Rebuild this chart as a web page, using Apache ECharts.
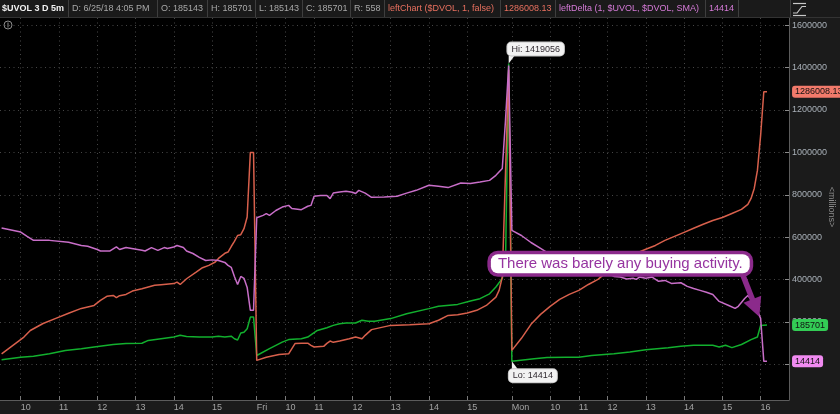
<!DOCTYPE html>
<html><head><meta charset="utf-8">
<script src="https://cdn.jsdelivr.net/npm/echarts@6/dist/echarts.min.js"></script>
<style>html,body{margin:0;padding:0;background:#1b1b1b;}#c{width:840px;height:414px;}</style>
</head><body><div id="c"></div>
<script>
// ---- data (x = 5-minute bar index across the 3 sessions) ----
const tickIdx = [6,18,30,42,54,66,80,89,98,110,122,134,146,160,172,181,190,202,214,226,238];
const tickLabels = ['10','11','12','13','14','15','Fri','10','11','12','13','14','15','Mon','10','11','12','13','14','15','16'];
const yTicks = [0,200000,400000,600000,800000,1000000,1200000,1400000,1600000];

// $UVOL (green)
const uvolPts = [[0,22000],[6,34000],[10,38000],[15,50000],[20,66000],[25,74000],[29,82000],[35,94000],[39,98000],[44,100000],[46,113000],[50,121000],[54,129000],[56,137000],[58,132000],[62,129000],[66,129000],[68,133000],[70,129000],[72,133000],[73,121000],[74,115000],[75,148000],[76,152000],[77,168000],[78,223000],[79,223000],
 [80,42000],[84,74000],[88,105000],[90,117000],[94,121000],[96,129000],[99,160000],[102,173000],[104,184000],[106,192000],[108,195000],[111,195000],[113,208000],[115,203000],[117,204000],[122,216000],[127,239000],[134,263000],[137,274000],[143,283000],[147,299000],[150,310000],[153,333000],[155,365000],[157,406000],[158,470000],[159,1419056],
 [160,14414],[167,27000],[171,32000],[177,34000],[181,34000],[185,42000],[192,50000],[197,58000],[202,69000],[209,79000],[213,85000],[217,90000],[223,90000],[225,82000],[227,90000],[229,79000],[232,94000],[235,117000],[237,129000],[238,184000],[240,185701]];

// leftChart ($DVOL) (orange)
const dvolPts = [[0,50000],[7,129000],[9,160000],[13,193000],[17,217000],[21,241000],[25,264000],[29,278000],[31,302000],[33,321000],[35,325000],[36,315000],[37,324000],[39,330000],[41,346000],[44,357000],[48,373000],[50,376000],[54,381000],[55,388000],[56,377000],[58,404000],[61,435000],[63,456000],[65,467000],[67,483000],[68,500000],[70,524000],[71,530000],[72,556000],[73,580000],[74,608000],[75,612000],[76,640000],[77,695000],[78,1000000],[79,1000000],
 [80,19000],[83,34000],[87,47000],[90,50000],[92,98000],[94,100000],[96,100000],[97,90000],[98,82000],[101,85000],[102,99000],[103,110000],[104,104000],[106,110000],[109,121000],[111,129000],[113,121000],[114,137000],[116,164000],[122,184000],[128,187000],[134,192000],[137,208000],[140,231000],[143,234000],[146,242000],[149,255000],[152,278000],[155,317000],[156,349000],[157,412000],[158,900000],[159,1390000],
 [160,66000],[163,123000],[166,189000],[169,236000],[172,274000],[175,307000],[178,330000],[181,349000],[184,377000],[187,401000],[190,439000],[193,472000],[196,500000],[199,524000],[202,543000],[205,561000],[208,585000],[211,604000],[214,623000],[217,642000],[220,661000],[223,679000],[226,693000],[229,712000],[232,731000],[234,755000],[235,783000],[236,830000],[237,915000],[238,1080000],[239,1286008.13],[240,1286008.13]];

// leftDelta (pink)
const deltaPts = [[0,643000],[6,624000],[8,604000],[10,585000],[15,585000],[21,576000],[25,561000],[27,557000],[30,542000],[31,535000],[34,535000],[36,554000],[37,542000],[39,551000],[44,538000],[45,535000],[47,551000],[49,538000],[51,551000],[52,547000],[54,554000],[55,561000],[57,551000],[58,535000],[60,523000],[62,505000],[64,490000],[66,493000],[68,490000],[70,481000],[71,467000],[72,458000],[73,415000],[74,377000],[75,415000],[76,406000],[77,363000],[78,255000],[79,255000],
 [80,692000],[82,703000],[83,711000],[84,703000],[86,726000],[88,742000],[90,750000],[91,735000],[94,730000],[96,746000],[97,750000],[98,793000],[100,797000],[102,797000],[103,782000],[104,808000],[106,813000],[108,817000],[110,812000],[111,806000],[112,821000],[114,808000],[116,788000],[120,790000],[124,793000],[127,808000],[130,821000],[134,845000],[137,840000],[140,834000],[144,856000],[147,853000],[150,860000],[153,868000],[155,892000],[157,924000],[158,1150000],[159,1410000],
 [160,632000],[163,608000],[166,575000],[169,547000],[172,519000],[176,495000],[180,472000],[185,448000],[190,429000],[192,415000],[194,412000],[196,403000],[198,406000],[199,401000],[200,412000],[202,406000],[204,412000],[206,392000],[208,396000],[210,382000],[213,385000],[215,368000],[217,358000],[219,349000],[221,340000],[223,330000],[225,297000],[228,278000],[230,264000],[231,274000],[233,311000],[234,325000],[236,288000],[238,217000],[239,14414],[240,14414]];

const hiPoint = [159,1419056];
const loPoint = [160,14414];
const noteText = 'There was barely any buying activity.';
const notePoint = [194,474500];
const arrowFrom = [232.2,430000];
const arrowTo = [236.5,266000];

const headerTexts = ['$UVOL 3 D 5m','D: 6/25/18 4:05 PM','O: 185143','H: 185701','L: 185143','C: 185701','R: 558','leftChart ($DVOL, 1, false)','1286008.13','leftDelta (1, $UVOL, $DVOL, SMA)','14414'];
const unitText = '<millions>';

// ---- layout / style ----
const FONT = '"Liberation Sans", Arial, sans-serif';
const X_MIN = -0.5, X_MAX = 246.9;
const C_GREEN = '#12b02e', C_ORANGE = '#d8604c', C_PINK = '#c86ec8';
const cellStarts = [0,68,157,207,255,302,350,384,500,555,705];
const seps = [68,157,207,255,302,350,384,500,555,705,738,790];
const headerColors = ['#f2f2f2','#a8a8a8','#a8a8a8','#a8a8a8','#a8a8a8','#a8a8a8','#a8a8a8','#e8705f','#e8705f','#d57ad7','#d57ad7'];

const graphics = [{type:'rect', shape:{x:0,y:0,width:840,height:17}, style:{fill:'#1a1a1a'}, silent:true, z:100}];
seps.forEach(s => graphics.push({type:'line', shape:{x1:s+0.5,y1:0,x2:s+0.5,y2:17}, style:{stroke:'#3e3e3e',lineWidth:1}, silent:true, z:101}));
graphics.push({type:'line', shape:{x1:0,y1:17.5,x2:840,y2:17.5}, style:{stroke:'#333',lineWidth:1}, silent:true, z:101});
headerTexts.forEach((t,i) => graphics.push({type:'text', x:cellStarts[i]+(i===0?2:4), y:9, z:102, silent:true,
  style:{text:t, fill:headerColors[i], fontSize:9, fontFamily:FONT, fontWeight:i===0?'bold':'normal', verticalAlign:'middle'}}));
// chart-type icon in the header
graphics.push({type:'polyline', shape:{points:[[793,3.5],[806,3.5]]}, style:{stroke:'#c8c8c8',lineWidth:1.2}, z:102, silent:true});
graphics.push({type:'polyline', shape:{points:[[793,13],[797,13],[802,6.5],[806,6.5]]}, style:{stroke:'#c8c8c8',lineWidth:1.2,fill:null}, z:102, silent:true});
graphics.push({type:'polyline', shape:{points:[[793,15.5],[806,15.5]]}, style:{stroke:'#c8c8c8',lineWidth:1.2}, z:102, silent:true});
// collapse icon top-left
graphics.push({type:'circle', shape:{cx:8,cy:25,r:4}, style:{stroke:'#8a8a8a',fill:null,lineWidth:1}, z:102, silent:true});
graphics.push({type:'line', shape:{x1:8,y1:22.5,x2:8,y2:27.5}, style:{stroke:'#8a8a8a',lineWidth:1}, z:102, silent:true});
// unit label of the right axis
graphics.push({type:'text', x:831, y:207, rotation:-Math.PI/2, z:102, silent:true,
  style:{text:unitText, fill:'#8c8c8c', fontSize:9, fontFamily:FONT, align:'center', verticalAlign:'middle'}});

function badge(value, text, bg) {
  return {coord:[X_MAX, value], symbol:'rect', symbolSize:0.1, itemStyle:{color:'rgba(0,0,0,0)'},
    label:{show:true, position:'right', distance:3, formatter:text, backgroundColor:bg, color:'#111',
      fontSize:9, fontFamily:FONT, padding:[2,3,1,3], borderRadius:3}};
}
const calloutLabel = {show:true, backgroundColor:'#f2f2f2', borderColor:'#c4c4c4', borderWidth:1, borderRadius:4,
  padding:[2,4], color:'#302a30', fontSize:9, fontFamily:FONT};

const last = a => a[a.length-1][1];

const option = {
  animation:false,
  backgroundColor:'#1b1b1b',
  graphic: graphics,
  grid:{left:0, right:51, top:18, bottom:14, show:true, backgroundColor:'#000', borderWidth:0, outerBoundsMode:'none'},
  xAxis:{type:'value', min:X_MIN, max:X_MAX,
    axisLine:{show:true, onZero:false, lineStyle:{color:'#5c5c5c'}},
    axisTick:{show:true, inside:true, length:4, customValues:tickIdx, lineStyle:{color:'#7a7a7a'}},
    axisLabel:{customValues:tickIdx, formatter:v => tickLabels[tickIdx.indexOf(Math.round(v))] || '', align:'left',
      margin:3, color:'#a4a4a4', fontSize:9, fontFamily:FONT},
    splitLine:{show:true, lineStyle:{color:'#464646', type:[1,3.5], width:1}}},
  yAxis:{type:'value', position:'right', min:-168000, max:1634000,
    axisLine:{show:true, onZero:false, lineStyle:{color:'#5c5c5c'}},
    axisTick:{show:true, inside:true, length:4, customValues:yTicks, lineStyle:{color:'#8a8a8a'}},
    axisLabel:{customValues:yTicks, formatter:v => String(v), margin:3, color:'#a9b0b8', fontSize:9, fontFamily:FONT},
    splitLine:{show:true, lineStyle:{color:'#464646', type:[1,3.5], width:1}}},
  series:[
    {type:'line', name:'$UVOL', data:uvolPts, showSymbol:false, symbol:'none', z:2,
      lineStyle:{color:C_GREEN, width:1.5}, itemStyle:{color:C_GREEN}, emphasis:{disabled:true},
      markPoint:{silent:true, animation:false, data:[
        badge(last(uvolPts), String(last(uvolPts)), '#33cc55'),
        {coord:hiPoint, symbol:'path://M0,0L6,0L0,9Z', symbolSize:[6,8], symbolOffset:[3,-4], itemStyle:{color:'#f2f2f2'},
          label:Object.assign({}, calloutLabel, {position:'top', distance:0, offset:[24,0], formatter:'Hi: ' + hiPoint[1]})},
        {coord:loPoint, symbol:'path://M0,9L6,9L0,0Z', symbolSize:[6,8], symbolOffset:[3,4], itemStyle:{color:'#f2f2f2'},
          label:Object.assign({}, calloutLabel, {position:'bottom', distance:0, offset:[18,0], formatter:'Lo: ' + loPoint[1]})}
      ]}},
    {type:'line', name:'leftChart', data:dvolPts, showSymbol:false, symbol:'none', z:3,
      lineStyle:{color:C_ORANGE, width:1.5}, itemStyle:{color:C_ORANGE}, emphasis:{disabled:true},
      markPoint:{silent:true, animation:false, data:[badge(last(dvolPts), last(dvolPts).toFixed(2), '#f27a6b')]}},
    {type:'line', name:'leftDelta', data:deltaPts, showSymbol:false, symbol:'none', z:4,
      lineStyle:{color:C_PINK, width:1.5}, itemStyle:{color:C_PINK}, emphasis:{disabled:true},
      markLine:{silent:true, animation:false, symbol:['none','triangle'], symbolSize:19, label:{show:false},
        lineStyle:{color:'#8b2a8b', width:5.5, type:'solid', opacity:1}, itemStyle:{color:'#8b2a8b'}, emphasis:{disabled:true},
        data:[[{coord:arrowFrom},{coord:arrowTo}]]},
      markPoint:{silent:true, animation:false, z:10, data:[
        badge(last(deltaPts), String(last(deltaPts)), '#f08af0'),
        {coord:notePoint, symbol:'rect', symbolSize:0.1, itemStyle:{color:'rgba(0,0,0,0)'},
          label:{show:true, position:'inside', formatter:noteText, color:'#9634a0', fontSize:15, fontFamily:FONT,
            backgroundColor:'#ffffff', borderColor:'#8b2a8b', borderWidth:3.5, borderRadius:7, padding:[2,7,2,7]}}
      ]}}
  ]
};
const chart = echarts.init(document.getElementById('c'), null, {renderer:'canvas'});
chart.setOption(option);
</script></body></html>
